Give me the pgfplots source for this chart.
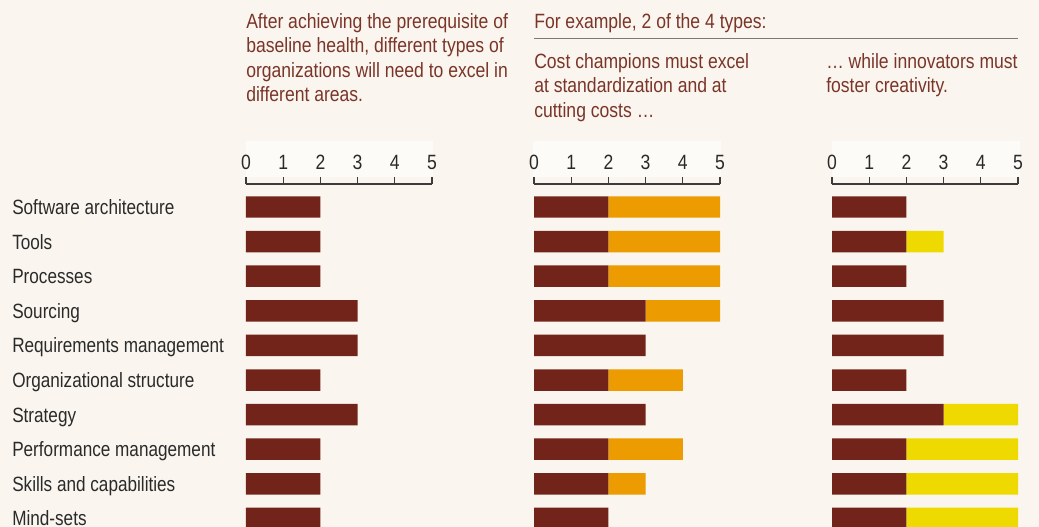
\documentclass[border=0pt]{standalone}
\usepackage{pgfplots}
\pgfplotsset{compat=1.18}
\usepackage{pgfplotstable}
\usepackage{fontspec}
\setmainfont{Liberation Sans}[FakeStretch=0.85]
\definecolor{bg}{HTML}{FAF6EF}
\definecolor{tickbg}{HTML}{FDFBF8}
\definecolor{dred}{HTML}{72241A}
\definecolor{orng}{HTML}{EC9B00}
\definecolor{yell}{HTML}{EEDA00}
\definecolor{btext}{HTML}{7B3528}
\definecolor{ltext}{HTML}{2A2A2A}
\definecolor{axc}{HTML}{3C3C3C}
\definecolor{rulec}{HTML}{7D7870}
\newcommand\tf{\fontsize{15.5}{18.3}\selectfont}

\pgfplotstableread{
row base cost innov
0 2 3 0
1 2 3 1
2 2 3 0
3 3 2 0
4 3 0 0
5 2 2 0
6 3 0 2
7 2 2 3
8 2 1 3
9 2 0 3
}\data

\pgfplotsset{panel/.style={
  xbar stacked, scale only axis, anchor=north west,
  width=139.5pt, height=266.4pt,
  xmin=0, xmax=5, ymin=-9.6, ymax=0.665,
  enlargelimits=false,
  axis x line=top, axis y line=left,
  y axis line style={draw=none},
  x axis line style={-, draw=axc, line width=0.9pt},
  xtick={0,...,5},
  tick align=outside,
  major tick length=5.25pt,
  xtick style={draw=axc, line width=0.9pt},
  ytick style={draw=none},
  ytick={0,-1,...,-9},
  yticklabels={},
  bar width=16.1pt,
  ticklabel style={font=\tf, text=ltext},
  /pgf/number format/assume math mode=true,
  xticklabel style={anchor=base, inner sep=0pt, yshift=5.25pt},
}}

\begin{document}
\begin{tikzpicture}[x=0.75pt,y=0.75pt]
\useasboundingbox (0,0) rectangle (1039,-527);
\clip (0,0) rectangle (1039,-527);
\fill[bg] (0,0) rectangle (1039,-527);
\fill[tickbg] (246,-141) rectangle (433,-177);
\fill[tickbg] (533,-141) rectangle (721,-177);
\fill[tickbg] (832,-141) rectangle (1020,-177);

% annotations
\begin{scope}[every node/.style={anchor=base west, inner sep=0pt, text=btext, font=\tf}]
\node at (246,-28.3) {After achieving the prerequisite of};
\node at (246,-52.7) {baseline health, different types of};
\node at (246,-77.1) {organizations will need to excel in};
\node at (246,-101.5) {different areas.};
\node at (534,-28.5) {For example, 2 of the 4 types:};
\node at (534,-68.5) {Cost champions must excel};
\node at (534,-92.9) {at standardization and at};
\node at (534,-117.3) {cutting costs …};
\node at (826,-68.5) {… while innovators must};
\node at (826,-92.9) {foster creativity.};
\end{scope}
\draw[rulec, line width=1.1pt] (534,-38.7) -- (1018,-38.7);

\begin{axis}[panel, at={(184.5pt,-138pt)},
  yticklabels={Software architecture, Tools, Processes, Sourcing, Requirements management, Organizational structure, Strategy, Performance management, Skills and capabilities, Mind-sets},
  yticklabel style={anchor=base west, inner sep=0pt, xshift=-170.25pt, yshift=-5.6pt, font=\fontsize{15.5}{18.3}\addfontfeatures{FakeStretch=0.83}}]
\addplot[fill=dred, draw=none] table[x=base, y expr=-\thisrow{row}] {\data};
\end{axis}

\begin{axis}[panel, at={(400.5pt,-138pt)}]
\addplot[fill=dred, draw=none] table[x=base, y expr=-\thisrow{row}] {\data};
\addplot[fill=orng, draw=none] table[x=cost, y expr=-\thisrow{row}] {\data};
\end{axis}

\begin{axis}[panel, at={(624pt,-138pt)}]
\addplot[fill=dred, draw=none] table[x=base, y expr=-\thisrow{row}] {\data};
\addplot[fill=yell, draw=none] table[x=innov, y expr=-\thisrow{row}] {\data};
\end{axis}
\end{tikzpicture}
\end{document}
